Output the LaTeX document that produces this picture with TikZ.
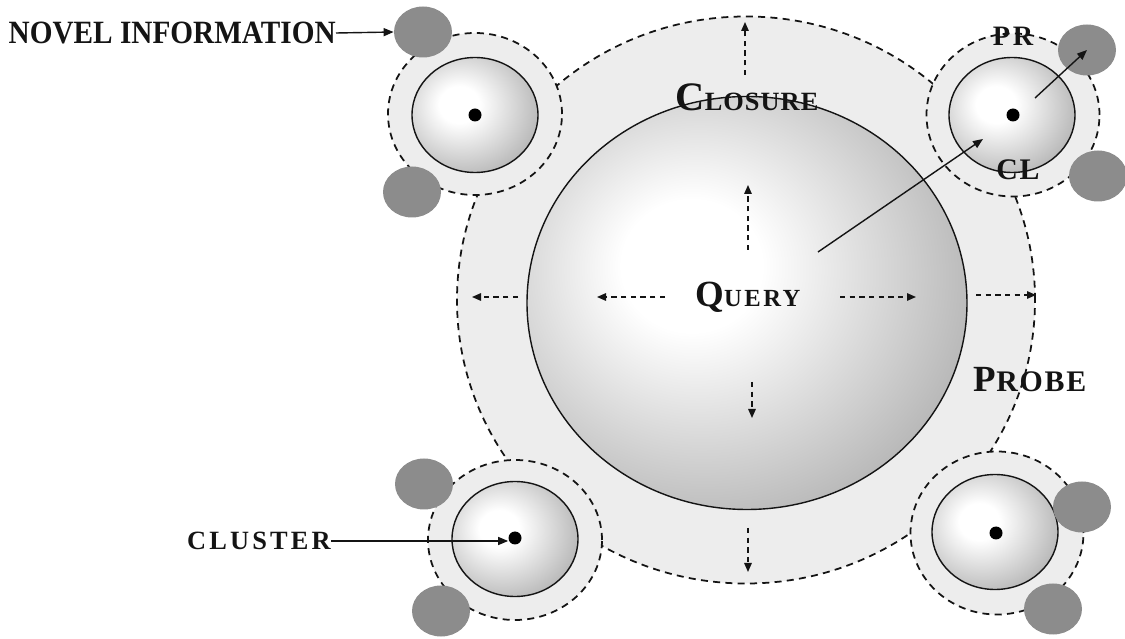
\documentclass[tikz,border=0pt]{standalone}
\usepackage{fontspec}
\setmainfont{Liberation Serif}
\usetikzlibrary{arrows.meta, positioning, shapes.geometric, calc}
\definecolor{haloc}{HTML}{EDEDED}
\definecolor{blobc}{HTML}{8C8C8C}
\definecolor{inkc}{HTML}{141414}
\pgfdeclareradialshading{globe}{\pgfpoint{-7bp}{5bp}}{color(0bp)=(white); color(8bp)=(white); color(50bp)=(black!52); color(80bp)=(black!62)}

\begin{document}
\begin{tikzpicture}[
  x=0.2mm, y=-0.2mm,
  halo/.style={ellipse, draw=inkc, dashed, dash pattern=on 4pt off 3pt,
               line width=1pt, fill=haloc, inner sep=0pt},
  core/.style={ellipse, draw=inkc, line width=0.8pt, shade, shading=globe,
               inner sep=0pt, minimum width=25.2mm, minimum height=23mm},
  blob/.style={ellipse, fill=blobc, inner sep=0pt,
               minimum width=11.6mm, minimum height=10.2mm},
  seed/.style={circle, fill=black, inner sep=0pt, minimum size=2.6mm},
  spread/.style={draw=inkc, dash pattern=on 3pt off 2.5pt, line width=0.8pt,
               -{Triangle[length=1.8mm, width=1.5mm]}},
  pointer/.style={draw=inkc, line width=0.8pt, -{Triangle[length=2mm, width=1.6mm]}},
  lbl/.style={text=inkc, font=\bfseries, inner sep=0pt}
]
  \useasboundingbox (0,0) rectangle (1125,639);

  % probe region and query
  \node[halo, minimum width=115.6mm, minimum height=113.4mm] (probe) at (746,300) {};
  \node[halo, minimum width=34.8mm, minimum height=32.4mm] (haloA) at (475,114) {};
  \node[halo, minimum width=34.6mm, minimum height=32.6mm] (haloB) at (1013,115) {};
  \node[halo, minimum width=34.8mm, minimum height=32mm] (haloC) at (515,540) {};
  \node[halo, minimum width=34.6mm, minimum height=32.6mm] (haloD) at (997,533) {};
  \node[ellipse, draw=inkc, line width=0.8pt, shade, shading=globe, inner sep=0pt,
        minimum width=88mm, minimum height=82.6mm] (query) at (747,303) {};

  % clusters
  \node[core] (coreA) at (475,115) {};
  \node[core] (coreB) at (1012,115) {};
  \node[core] (coreC) at (515,539) {};
  \node[core] (coreD) at (995,532) {};
  \node[seed] (dotA) at (475,115) {};
  \node[seed] (dotB) at (1013,115) {};
  \node[seed] (dotC) at (515,538) {};
  \node[seed] (dotD) at (996,533) {};

  % novel information
  \node[blob] (blobA1) at (423,32) {};
  \node[blob] (blobA2) at (412,192) {};
  \node[blob] (blobB1) at (1087,50) {};
  \node[blob] (blobB2) at (1098,176) {};
  \node[blob] (blobC1) at (424,484) {};
  \node[blob] (blobC2) at (441,611) {};
  \node[blob] (blobD1) at (1082,507) {};
  \node[blob] (blobD2) at (1053,609) {};

  % growth arrows
  \coordinate (qN0) at (748,250); \coordinate (qN1) at (748,185);
  \coordinate (qS0) at (752,382); \coordinate (qS1) at (752,418);
  \coordinate (qW0) at (665,297); \coordinate (qW1) at (597,297);
  \coordinate (qE0) at (840,297); \coordinate (qE1) at (916,297);
  \coordinate (pN0) at (745,75);  \coordinate (pN1) at (745,22);
  \coordinate (pS0) at (748,528); \coordinate (pS1) at (748,572);
  \coordinate (pW0) at (518,297); \coordinate (pW1) at (472,297);
  \coordinate (pE0) at (976,295); \coordinate (pE1) at (1036,295);
  \foreach \s in {qN,qS,qW,qE,pN,pS,pW,pE}
    \draw[spread] (\s0) -- (\s1);

  \coordinate (qOut) at (818,252);
  \coordinate (bIn) at (983,139);
  \coordinate (bOut) at (1035,98);
  \draw[pointer] (qOut) -- (bIn);
  \draw[pointer] (bOut) -- (blobB1.center);

  % labels
  \node[lbl, font=\bfseries\fontsize{18.5}{18}\selectfont, anchor=east] (novel) at (336,33) {\scalebox{0.9}[1]{NOVEL INFORMATION}};
  \draw[pointer] (novel.east) -- (blobA1.west);
  \node[lbl, font=\bfseries\fontsize{15}{15}\selectfont\addfontfeature{LetterSpace=12}, anchor=east] (cluster) at (331,541) {CLUSTER};
  \draw[pointer] (cluster.east) -- (cluster.east -| dotC.west);

  \node[lbl] (querytxt) at (748,297) {\addfontfeature{LetterSpace=10}\fontsize{21}{21}\selectfont Q\fontsize{14}{14}\selectfont UERY};
  \node[lbl] (closure) at (747,97) {\addfontfeature{LetterSpace=4}\fontsize{23}{23}\selectfont C\fontsize{15}{15}\selectfont LOSURE};
  \node[lbl] (probetxt) at (1030,380) {\addfontfeature{LetterSpace=6}\fontsize{21}{21}\selectfont P\fontsize{17}{17}\selectfont ROBE};
  \node[lbl, font=\bfseries\fontsize{16}{16}\selectfont\addfontfeature{LetterSpace=10}] (pr) at (1013,36) {PR};
  \node[lbl, font=\bfseries\fontsize{17}{17}\selectfont\addfontfeature{LetterSpace=6}] (cl) at (1018,170) {CL};
\end{tikzpicture}
\end{document}
